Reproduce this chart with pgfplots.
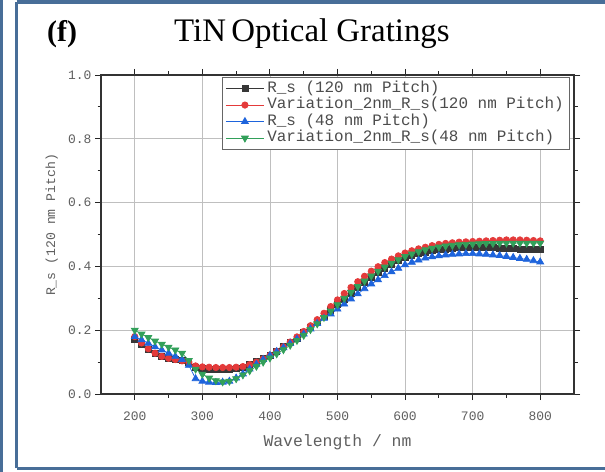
\documentclass[border=0pt]{standalone}
\usepackage{pgfplots}
\pgfplotsset{compat=1.18}
\usepackage{pgfplotstable}
\usepackage{fontspec}
\setmainfont{Liberation Serif}
\newfontfamily\monofont{Liberation Mono}
\definecolor{frameblue}{RGB}{72,110,152}
\definecolor{cblack}{RGB}{55,55,55}
\definecolor{cred}{RGB}{228,58,58}
\definecolor{cblue}{RGB}{30,100,220}
\definecolor{cgreen}{RGB}{50,160,90}
\definecolor{txtgray}{RGB}{95,95,95}

\pgfplotstableread{
x a b c d
200 0.170 0.180 0.180 0.200
210 0.155 0.160 0.170 0.188
220 0.140 0.142 0.159 0.177
230 0.128 0.128 0.148 0.166
240 0.118 0.118 0.138 0.156
250 0.112 0.112 0.128 0.147
260 0.108 0.108 0.118 0.138
270 0.104 0.104 0.108 0.128
280 0.100 0.100 0.090 0.105
290 0.085 0.088 0.048 0.078
300 0.080 0.085 0.040 0.062
310 0.078 0.084 0.037 0.050
320 0.077 0.083 0.036 0.042
330 0.077 0.083 0.037 0.038
340 0.078 0.083 0.040 0.040
350 0.080 0.084 0.050 0.048
360 0.084 0.086 0.063 0.060
370 0.092 0.092 0.078 0.073
380 0.102 0.100 0.093 0.087
390 0.112 0.110 0.108 0.100
400 0.122 0.121 0.121 0.113
410 0.135 0.134 0.133 0.126
420 0.148 0.148 0.145 0.139
430 0.162 0.163 0.158 0.153
440 0.176 0.179 0.172 0.168
450 0.192 0.196 0.188 0.184
460 0.208 0.214 0.204 0.202
470 0.225 0.233 0.221 0.220
480 0.243 0.253 0.237 0.240
490 0.262 0.274 0.251 0.260
500 0.280 0.295 0.266 0.280
510 0.298 0.315 0.282 0.300
520 0.316 0.334 0.298 0.319
530 0.333 0.352 0.314 0.337
540 0.350 0.369 0.330 0.354
550 0.366 0.385 0.345 0.370
560 0.381 0.399 0.358 0.385
570 0.395 0.412 0.371 0.398
580 0.407 0.423 0.383 0.410
590 0.418 0.433 0.394 0.421
600 0.427 0.442 0.405 0.431
610 0.434 0.449 0.413 0.439
620 0.440 0.455 0.420 0.446
630 0.445 0.460 0.426 0.452
640 0.449 0.465 0.430 0.457
650 0.452 0.469 0.433 0.461
660 0.455 0.472 0.436 0.464
670 0.457 0.474 0.438 0.466
680 0.459 0.476 0.439 0.468
690 0.460 0.477 0.440 0.469
700 0.460 0.478 0.440 0.470
710 0.460 0.479 0.439 0.471
720 0.460 0.480 0.438 0.472
730 0.459 0.481 0.436 0.472
740 0.458 0.482 0.434 0.473
750 0.457 0.483 0.431 0.473
760 0.456 0.483 0.428 0.473
770 0.455 0.483 0.425 0.473
780 0.455 0.482 0.422 0.473
790 0.454 0.481 0.418 0.473
800 0.454 0.480 0.414 0.473
}\datatable

\begin{document}
\begin{tikzpicture}
\path[use as bounding box] (0,0) rectangle (605bp,472bp);
\fill[white] (0,0) rectangle (605bp,472bp);
\fill[frameblue] (0,0) rectangle (3bp,472bp);
\draw[frameblue, line width=3.5bp] (16.5bp,3.5bp) -- (16.5bp,470bp);
\draw[frameblue, line width=3.5bp] (16.5bp,470bp) -- (610bp,470bp);
\draw[frameblue, line width=3.5bp] (16.5bp,3.5bp) -- (610bp,3.5bp);
\node[anchor=base west, font=\fontsize{30}{32}\selectfont\bfseries, inner sep=0pt] at (47bp,430bp) {(f)};
\node[anchor=base west, font=\fontsize{33}{36}\selectfont, inner sep=0pt] at (174bp,430bp) {TiN\,Optical Gratings};
\begin{axis}[
  at={(101bp,78bp)}, anchor=south west,
  scale only axis, width=473bp, height=319bp,
  xmin=150, xmax=850, ymin=0, ymax=1,
  xtick={200,300,400,500,600,700,800},
  ytick={0,0.2,0.4,0.6,0.8,1},
  minor x tick num=1, minor y tick num=1,
  grid=major,
  major grid style={black!25, line width=0.7bp},
  tick align=outside,
  major tick length=6bp, minor tick length=3.5bp,
  every tick/.style={black!85, line width=0.9bp},
  axis line style={black!80, line width=1.2bp},
  /pgf/number format/assume math mode=true,
  yticklabel style={/pgf/number format/.cd, fixed, fixed zerofill, precision=1},
  ticklabel style={font=\monofont\fontsize{13}{15}\selectfont, text=txtgray},
  xticklabel style={yshift=-8bp},
  xlabel={Wavelength / nm},
  ylabel={R\_s (120 nm Pitch)},
  xlabel style={font=\monofont\fontsize{16.5}{18}\selectfont, text=txtgray, at={(axis description cs:0.5,-0.152)}, anchor=center},
  ylabel style={font=\monofont\fontsize{13.2}{15}\selectfont, text=txtgray, at={(axis description cs:-0.104,0.53)}, anchor=center},
  legend cell align=left,
  legend image code/.code={\draw[mark repeat=2,mark phase=2] plot coordinates {(0bp,0bp) (19bp,0bp) (38bp,0bp)};},
  legend style={at={(0.992,0.994)}, anchor=north east, draw=black!60, line width=0.8bp,
    font=\monofont\fontsize{16}{16.7}\selectfont, text=black!70,
    inner xsep=3bp, inner ysep=3bp, row sep=0pt,
    nodes={inner ysep=1bp, inner xsep=3bp, text height=11bp, text depth=3.5bp}},
]
\addplot[color=cblack, line width=0.7bp, mark=square*, mark size=3bp] table[x=x, y=a] {\datatable};
\addlegendentry{R\_s (120 nm Pitch)}
\addplot[color=cred, line width=0.7bp, mark=*, mark size=3.2bp] table[x=x, y=b] {\datatable};
\addlegendentry{Variation\_2nm\_R\_s(120 nm Pitch)}
\addplot[color=cblue, line width=0.7bp, mark=triangle*, mark size=4bp] table[x=x, y=c] {\datatable};
\addlegendentry{R\_s (48 nm Pitch)}
\addplot[color=cgreen, line width=0.7bp, mark=triangle*, mark size=4bp, mark options={rotate=180}] table[x=x, y=d] {\datatable};
\addlegendentry{Variation\_2nm\_R\_s(48 nm Pitch)}
\end{axis}
\end{tikzpicture}
\end{document}
